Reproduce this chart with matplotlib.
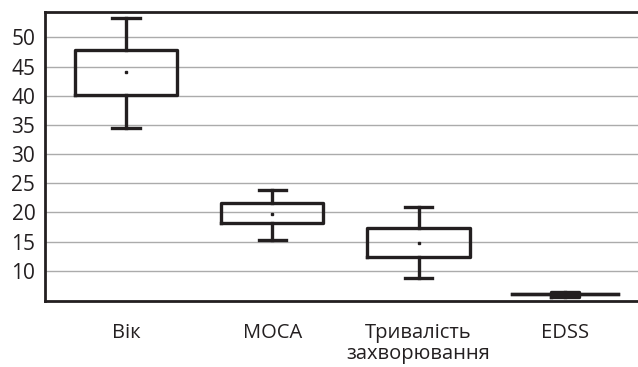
import matplotlib
matplotlib.use('Agg')
import matplotlib.pyplot as plt

# Values
categories = ['Вік', 'MOCA', 'Тривалість\nзахворювання', 'EDSS']
whisker_low = [34.5, 15.3, 8.7, 5.95]
q1 = [40.2, 18.2, 12.3, 5.5]
median = [44.0, 19.7, 14.8, 5.95]
q3 = [47.8, 21.6, 17.3, 6.35]
whisker_high = [53.3, 23.8, 20.9, 5.95]
means = [44.0, 19.7, 14.8, 5.95]
y_ticks = [10, 15, 20, 25, 30, 35, 40, 45, 50]

ink = '#231f20'

plt.rcParams['font.family'] = ['Open Sans', 'DejaVu Sans']

stats = []
for i, name in enumerate(categories):
    stats.append({
        'label': name,
        'whislo': whisker_low[i],
        'q1': q1[i],
        'med': median[i],
        'q3': q3[i],
        'whishi': whisker_high[i],
        'mean': means[i],
        'fliers': [],
    })

fig = plt.figure(figsize=(6.38, 3.67), dpi=100)
ax = fig.add_axes([0.0705, 0.18, 0.9295, 0.787])

ax.yaxis.grid(True, color='#ababab', linewidth=1.0)
ax.set_axisbelow(True)

lw = 2.4
ax.bxp(stats, positions=[1, 2, 3, 4],
       widths=[0.70, 0.70, 0.70, 0.19],
       capwidths=[0.185, 0.185, 0.185, 0.72],
       showmeans=True,
       boxprops=dict(color=ink, linewidth=lw),
       whiskerprops=dict(color=ink, linewidth=lw),
       capprops=dict(color=ink, linewidth=lw),
       medianprops=dict(linewidth=0),
       meanprops=dict(marker='s', markersize=1.8, markerfacecolor=ink,
                      markeredgecolor=ink))

ax.set_xlim(0.446, 4.5)
ax.set_ylim(4.81, 54.34)
ax.set_yticks(y_ticks)
ax.set_xticks([1, 2, 3, 4])
ax.set_xticklabels(categories, fontsize=14.5, color=ink, linespacing=1.08)
ax.tick_params(axis='y', length=0, pad=7, labelsize=15, labelcolor=ink)
ax.tick_params(axis='x', length=0, pad=16)

for side in ['left', 'top', 'bottom']:
    ax.spines[side].set_color(ink)
    ax.spines[side].set_linewidth(2)
ax.spines['right'].set_visible(False)

plt.savefig('out.png', dpi=100)
